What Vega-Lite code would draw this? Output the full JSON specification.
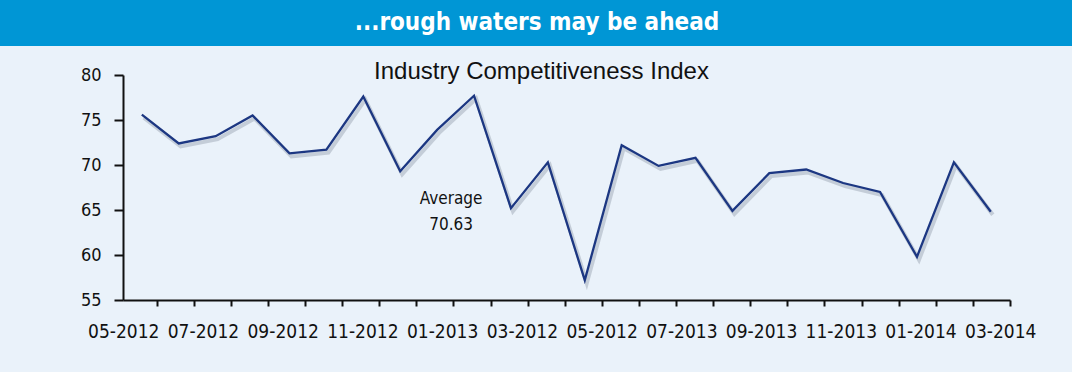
{
  "$schema": "https://vega.github.io/schema/vega-lite/v6.json",
  "background": "#EAF2FA",
  "padding": {"left": 0, "top": 0, "right": 0, "bottom": 36},
  "config": {"view": {"stroke": null}, "font": "'DejaVu Sans Condensed', 'Roboto Condensed', 'Noto Sans Condensed', Roboto"},
  "spacing": 14,
  "vconcat": [
    {
      "width": 1072,
      "height": 46,
      "view": {"fill": "#0096D5", "stroke": null},
      "data": {"values": [{"headline": "...rough waters may be ahead"}]},
      "mark": {"type": "text", "fontSize": 24, "fontWeight": "bold", "color": "#FFFFFF", "baseline": "middle", "align": "center", "dx": 1},
      "encoding": {"text": {"field": "headline"}}
    },
    {
      "spacing": 0,
      "hconcat": [
        {
          "width": 1,
          "height": 1,
          "data": {"values": [{}]},
          "mark": {"type": "point", "size": 0, "opacity": 0, "strokeWidth": 0}
        },
        {
          "width": 887,
          "height": 225,
          "title": {"text": "Industry Competitiveness Index", "font": "Liberation Sans", "fontSize": 24, "fontWeight": "normal", "color": "#111111", "anchor": "middle", "frame": "group", "baseline": "alphabetic", "offset": -37, "dx": -25},
          "data": {"values": [
            {"i": 0, "month": "2012-05", "v": 75.6},
            {"i": 1, "month": "2012-06", "v": 72.4},
            {"i": 2, "month": "2012-07", "v": 73.2},
            {"i": 3, "month": "2012-08", "v": 75.5},
            {"i": 4, "month": "2012-09", "v": 71.3},
            {"i": 5, "month": "2012-10", "v": 71.7},
            {"i": 6, "month": "2012-11", "v": 77.6},
            {"i": 7, "month": "2012-12", "v": 69.3},
            {"i": 8, "month": "2013-01", "v": 73.9},
            {"i": 9, "month": "2013-02", "v": 77.7},
            {"i": 10, "month": "2013-03", "v": 65.2},
            {"i": 11, "month": "2013-04", "v": 70.3},
            {"i": 12, "month": "2013-05", "v": 57.2},
            {"i": 13, "month": "2013-06", "v": 72.2},
            {"i": 14, "month": "2013-07", "v": 69.9},
            {"i": 15, "month": "2013-08", "v": 70.8},
            {"i": 16, "month": "2013-09", "v": 64.9},
            {"i": 17, "month": "2013-10", "v": 69.1},
            {"i": 18, "month": "2013-11", "v": 69.5},
            {"i": 19, "month": "2013-12", "v": 68.0},
            {"i": 20, "month": "2014-01", "v": 67.0},
            {"i": 21, "month": "2014-02", "v": 59.8},
            {"i": 22, "month": "2014-03", "v": 70.3},
            {"i": 23, "month": "2014-04", "v": 64.8}
          ]},
          "layer": [
            {
              "mark": {"type": "line", "color": "#8C97A6", "opacity": 0.4, "strokeWidth": 4, "xOffset": 2, "yOffset": 3},
              "encoding": {
                "x": {"field": "i", "type": "quantitative", "scale": {"domain": [-0.51, 23.52], "nice": false, "zero": false},
                  "axis": {"orient": "bottom", "values": [0.401, 1.406, 2.411, 3.416, 4.422, 5.427, 6.432, 7.437, 8.442, 9.447, 10.452, 11.458, 12.463, 13.468, 14.473, 15.478, 16.483, 17.489, 18.494, 19.499, 20.504, 21.509, 22.514, 23.52],
                    "labels": false, "ticks": true, "tickSize": 6, "tickWidth": 2, "tickColor": "#111111", "domain": true, "domainWidth": 2, "domainColor": "#111111", "grid": false, "title": null}},
                "y": {"field": "v", "type": "quantitative", "scale": {"domain": [55, 80], "nice": false, "zero": false}, "axis": null}
              }
            },
            {
              "mark": {"type": "line", "color": "#1C3782", "strokeWidth": 2.3},
              "encoding": {
                "x": {"field": "i", "type": "quantitative",
                  "axis": {"orient": "bottom", "values": [-0.504, 1.656, 3.816, 5.976, 8.136, 10.296, 12.456, 14.616, 16.776, 18.936, 21.096, 23.256],
                    "labelExpr": "['05-2012','07-2012','09-2012','11-2012','01-2013','03-2012','05-2012','07-2013','09-2013','11-2013','01-2014','03-2014'][round((datum.value + 0.504) / 2.16)]",
                    "ticks": false, "domain": false, "grid": false, "title": null, "labelFontSize": 19, "labelColor": "#111111", "labelPadding": 22, "labelFlush": false, "labelOverlap": false, "labelBound": false}},
                "y": {"field": "v", "type": "quantitative",
                  "axis": {"values": [55, 60, 65, 70, 75, 80], "tickSize": 9, "tickWidth": 2, "tickColor": "#111111", "domainWidth": 2, "domainColor": "#111111", "labelFontSize": 18, "labelPadding": 13, "labelColor": "#111111", "grid": false, "title": null, "minExtent": 122}}
              }
            },
            {
              "data": {"values": [{"i": 8, "average": 70.63, "label": "Average\n70.63"}]},
              "mark": {"type": "text", "lineBreak": "\n", "dx": 14, "dy": 40, "fontSize": 17, "lineHeight": 26, "color": "#111111"},
              "encoding": {
                "x": {"field": "i", "type": "quantitative", "axis": null},
                "y": {"field": "average", "type": "quantitative", "axis": null},
                "text": {"field": "label"}
              }
            }
          ],
          "resolve": {"axis": {"x": "independent", "y": "independent"}}
        }
      ]
    }
  ]
}
